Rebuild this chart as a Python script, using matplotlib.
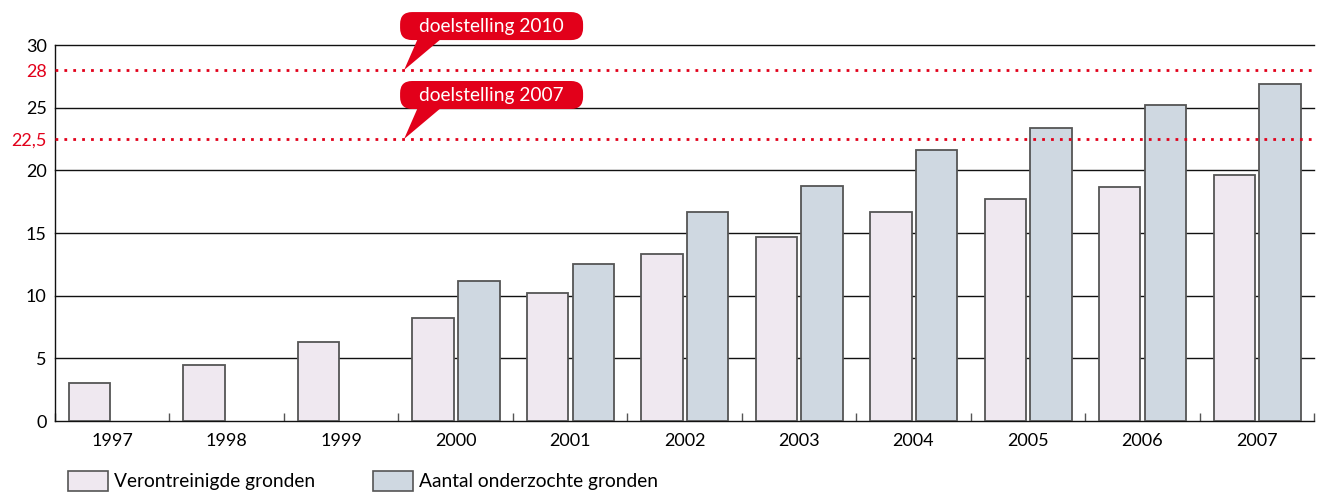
import numpy as np
import matplotlib

matplotlib.use("Agg")
import matplotlib.pyplot as plt
from matplotlib.patches import FancyBboxPatch, Polygon, Rectangle
from matplotlib.transforms import IdentityTransform

plt.rcParams["font.family"] = ["Lato", "DejaVu Sans"]

YEARS = ["1997", "1998", "1999", "2000", "2001", "2002", "2003", "2004", "2005", "2006", "2007"]
VERONTREINIGD = [3.0, 4.5, 6.3, 8.2, 10.2, 13.3, 14.7, 16.7, 17.7, 18.7, 19.6]
ONDERZOCHT = [np.nan, np.nan, np.nan, 11.2, 12.5, 16.7, 18.75, 21.6, 23.4, 25.2, 26.9]
SERIES_LABELS = ["Verontreinigde gronden", "Aantal onderzochte gronden"]
TARGET_VALUES = [28.0, 22.5]
TARGET_LABELS = ["doelstelling 2010", "doelstelling 2007"]
TARGET_TICKS = ["28", "22,5"]
Y_TICKS = [0, 5, 10, 15, 20, 25, 30]

RED = "#e2001a"
PINK = "#efe8f0"
BLUE = "#cfd8e1"
EDGE = "#555555"

W, H = 1319, 492
fig = plt.figure(figsize=(W / 100, H / 100), dpi=100)
ax = fig.add_axes([55 / W, 1 - 421 / H, 1259 / W, 376 / H])

x = np.arange(len(YEARS))
bar_w = 0.362
ax.bar(x - 0.197, VERONTREINIGD, bar_w, color=PINK, edgecolor=EDGE, linewidth=1.3, zorder=3)
ax.bar(x + 0.203, ONDERZOCHT, bar_w, color=BLUE, edgecolor=EDGE, linewidth=1.3, zorder=3)

for v in Y_TICKS[1:]:
    ax.axhline(v, color="#111111", linewidth=1.0, zorder=1, clip_on=False)
for v in TARGET_VALUES:
    ax.axhline(v, color=RED, linewidth=2.0, linestyle=(0, (1, 2.2)), zorder=4)

ax.set_xlim(-0.5, len(YEARS) - 0.5)
ax.set_ylim(0, 30)

ax.set_yticks(Y_TICKS + TARGET_VALUES)
ax.set_yticklabels([str(v) for v in Y_TICKS] + TARGET_TICKS, fontsize=13)
for lab in ax.get_yticklabels()[len(Y_TICKS):]:
    lab.set_color(RED)
ax.tick_params(axis="y", length=0, pad=6)

ax.set_xticks(x)
ax.set_xticklabels(YEARS, fontsize=13)
ax.set_xticks(np.arange(len(YEARS) + 1) - 0.5, minor=True)
ax.tick_params(axis="x", which="major", length=0, pad=9)
ax.tick_params(axis="x", which="minor", direction="in", length=6, width=1, color=EDGE)

for side in ["top", "right"]:
    ax.spines[side].set_visible(False)
ax.spines["left"].set_color("#111111")
ax.spines["bottom"].set_color("#111111")
ax.spines["left"].set_linewidth(1.0)
ax.spines["bottom"].set_linewidth(1.0)

# callouts pointing to the target lines
fig.canvas.draw()
for value, label in zip(TARGET_VALUES, TARGET_LABELS):
    tx, ty = ax.transData.transform((2.55, value))
    box_left, box_bottom = tx - 4, ty + 30
    box = FancyBboxPatch((box_left, box_bottom), 183, 28,
                         boxstyle="round,pad=0,rounding_size=12",
                         transform=IdentityTransform(), facecolor=RED,
                         edgecolor="none", zorder=6, clip_on=False)
    fig.add_artist(box)
    tri = Polygon([(tx, ty), (tx + 14, box_bottom + 2), (tx + 38, box_bottom + 2)],
                  closed=True, transform=IdentityTransform(), facecolor=RED,
                  edgecolor="none", zorder=6, clip_on=False)
    fig.add_artist(tri)
    fig.text((box_left + 91.5) / W, (box_bottom + 14) / H, label, color="white",
             fontsize=13.8, ha="center", va="center", zorder=7)

# legend
for i, (lab, col) in enumerate(zip(SERIES_LABELS, [PINK, BLUE])):
    lx = 68 + i * 305
    fig.add_artist(Rectangle((lx / W, 1 - 491 / H), 40 / W, 20 / H,
                             transform=fig.transFigure, facecolor=col,
                             edgecolor=EDGE, linewidth=1.2))
    fig.text((lx + 46) / W, 1 - 481 / H, lab, fontsize=13.8, va="center", ha="left")

fig.savefig("out.png", dpi=100)
